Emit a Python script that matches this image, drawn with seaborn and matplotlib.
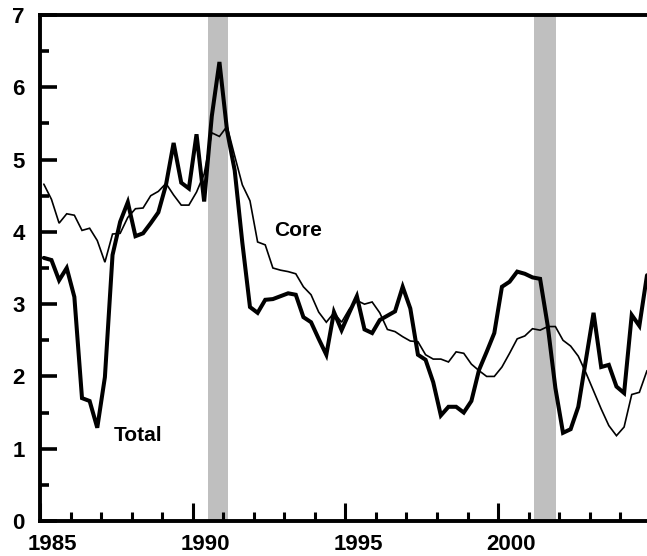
import numpy as np
import pandas as pd
import matplotlib
matplotlib.use("Agg")
import matplotlib.pyplot as plt
import matplotlib.transforms as mtransforms
from matplotlib.ticker import FixedLocator, MultipleLocator
import seaborn as sns

# ---- data (quarterly, 1985Q1 - 2004Q4) ----
total = [3.64, 3.61, 3.33, 3.50,
         3.10, 1.70, 1.66, 1.29,
         1.99, 3.68, 4.14, 4.41,
         3.94, 3.98, 4.12, 4.27,
         4.65, 5.23, 4.68, 4.60,
         5.35, 4.42, 5.60, 6.35,
         5.40, 4.85, 3.85, 2.96,
         2.88, 3.06, 3.07, 3.11,
         3.15, 3.13, 2.82, 2.75,
         2.52, 2.30, 2.89, 2.64,
         2.88, 3.11, 2.65, 2.60,
         2.78, 2.84, 2.90, 3.24,
         2.94, 2.30, 2.23, 1.92,
         1.46, 1.58, 1.58, 1.50,
         1.66, 2.09, 2.34, 2.60,
         3.24, 3.31, 3.45, 3.42,
         3.37, 3.35, 2.70, 1.84,
         1.22, 1.27, 1.58, 2.23,
         2.88, 2.13, 2.16, 1.86,
         1.77, 2.85, 2.70, 3.40]

core = [4.66, 4.45, 4.12, 4.25,
        4.23, 4.02, 4.05, 3.88,
        3.58, 3.97, 3.98, 4.20,
        4.32, 4.33, 4.50, 4.56,
        4.67, 4.51, 4.37, 4.37,
        4.55, 4.80, 5.37, 5.32,
        5.46, 5.05, 4.65, 4.43,
        3.86, 3.82, 3.50, 3.47,
        3.45, 3.42, 3.24, 3.13,
        2.89, 2.75, 2.88, 2.75,
        2.93, 3.05, 3.00, 3.03,
        2.88, 2.65, 2.62, 2.55,
        2.49, 2.48, 2.30, 2.24,
        2.24, 2.20, 2.34, 2.32,
        2.17, 2.08, 2.00, 2.00,
        2.13, 2.32, 2.52, 2.56,
        2.66, 2.64, 2.69, 2.69,
        2.50, 2.42, 2.28, 2.05,
        1.80, 1.55, 1.32, 1.18,
        1.30, 1.75, 1.78, 2.08]

recessions = [(1990.5, 1991.17), (2001.17, 2001.9)]
year_labels = [1985, 1990, 1995, 2000]
y_labels = [0, 1, 2, 3, 4, 5, 6, 7]

quarters = pd.period_range("1985Q1", periods=len(total), freq="Q")
t = quarters.year + (quarters.quarter - 0.5) / 4.0
df = pd.DataFrame({"t": t, "Total": total, "Core": core})

# ---- style ----
sns.set_style("white")
plt.rcParams["font.family"] = ["Liberation Sans", "DejaVu Sans"]
plt.rcParams["font.weight"] = "bold"
plt.rcParams["text.color"] = "black"
plt.rcParams["axes.labelcolor"] = "black"
plt.rcParams["xtick.color"] = "black"
plt.rcParams["ytick.color"] = "black"
plt.rcParams["lines.solid_joinstyle"] = "miter"

fig = plt.figure(figsize=(6.47, 5.56), dpi=100)
ax = fig.add_axes([40 / 647, 35 / 556, 1 - 40 / 647, (521 - 15) / 556])

for a, b in recessions:
    ax.axvspan(a, b, color="#bfbfbf", lw=0, zorder=0)

sns.lineplot(data=df, x="t", y="Core", ax=ax, color="black", linewidth=1.2, zorder=3)
sns.lineplot(data=df, x="t", y="Total", ax=ax, color="black", linewidth=2.9, zorder=4)

ax.set_xlim(1985, 2004.875)
ax.set_ylim(0, 7)
ax.set_xlabel("")
ax.set_ylabel("")

ax.xaxis.set_major_locator(FixedLocator(year_labels))
ax.xaxis.set_minor_locator(MultipleLocator(1))
ax.set_xticklabels([str(y) for y in year_labels])
ax.yaxis.set_major_locator(FixedLocator(y_labels))
ax.yaxis.set_minor_locator(MultipleLocator(0.5))
ax.set_yticklabels([str(y) for y in y_labels])

ax.tick_params(axis="both", which="both", direction="in", color="black",
               labelsize=16, labelcolor="black")
ax.tick_params(axis="x", which="major", length=13, width=2.2, pad=9, bottom=True, top=False)
ax.tick_params(axis="x", which="minor", length=6.5, width=2.2, bottom=True, top=False)
ax.tick_params(axis="y", which="major", length=12.5, width=2.6, pad=11, left=True, right=False)
ax.tick_params(axis="y", which="minor", length=6.5, width=2.6, left=True, right=False)

for side in ["left", "bottom", "top"]:
    ax.spines[side].set_visible(True)
    ax.spines[side].set_color("black")
    ax.spines[side].set_linewidth(2.8)
ax.spines["right"].set_visible(False)

for lbl in ax.get_xticklabels():
    lbl.set_fontweight("bold")
for lbl in ax.get_yticklabels():
    lbl.set_fontweight("bold")

offset = mtransforms.ScaledTranslation(12.5 / 100, 0, fig.dpi_scale_trans)
for lbl in ax.get_xticklabels():
    lbl.set_transform(lbl.get_transform() + offset)

ax.text(1987.4, 1.18, "Total", fontsize=15, fontweight="bold", color="black",
        ha="left", va="center", zorder=5)
ax.text(1992.68, 4.02, "Core", fontsize=15, fontweight="bold", color="black",
        ha="left", va="center", zorder=5)

leg = ax.get_legend()
if leg is not None:
    leg.remove()

fig.savefig("out.png", dpi=100)
